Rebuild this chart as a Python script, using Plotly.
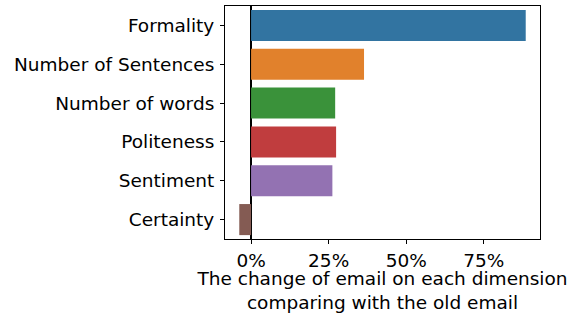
import plotly.graph_objects as go

categories = ["Formality", "Number of Sentences", "Number of words", "Politeness", "Sentiment", "Certainty"]
values = [88.5, 36.4, 27.1, 27.4, 26.2, -3.8]
colors = ["#3274a1", "#e1812c", "#3a923a", "#c03d3e", "#9372b2", "#845b53"]
x_ticks = [0, 25, 50, 75]
x_tick_labels = ["0%", "25%", "50%", "75%"]
x_title = "The change of email on each dimension<br>comparing with the old email"

fig = go.Figure(go.Bar(
    x=values, y=categories, orientation="h",
    marker=dict(color=colors, line=dict(width=0)),
    width=0.8,
))

font = dict(family="DejaVu Sans", size=18.5, color="black")
fig.update_layout(
    template="none",
    width=576, height=313,
    margin=dict(l=224.5, r=35.7, t=6.3, b=74, pad=0),
    plot_bgcolor="white", paper_bgcolor="white",
    font=font,
    showlegend=False,
    xaxis=dict(
        automargin=False,
        range=[-8.4, 93.1], tickvals=x_ticks, ticktext=x_tick_labels,
        showgrid=False, zeroline=True, zerolinecolor="black", zerolinewidth=2.2,
        showline=True, linecolor="black", linewidth=1, mirror=True,
        ticks="outside", ticklen=4, tickwidth=1, tickcolor="black",
        ticklabelstandoff=1,
        title=dict(text=x_title, standoff=5, font=font),
        layer="above traces",
    ),
    yaxis=dict(
        automargin=False,
        categoryorder="array", categoryarray=categories, autorange="reversed",
        showgrid=False, zeroline=False,
        showline=True, linecolor="black", linewidth=1, mirror=True,
        ticks="outside", ticklen=4, tickwidth=1, tickcolor="black",
        ticklabelstandoff=2,
    ),
)

fig.write_html("out.html", config={"displayModeBar": False},
               post_script="document.body.style.margin='0';")
